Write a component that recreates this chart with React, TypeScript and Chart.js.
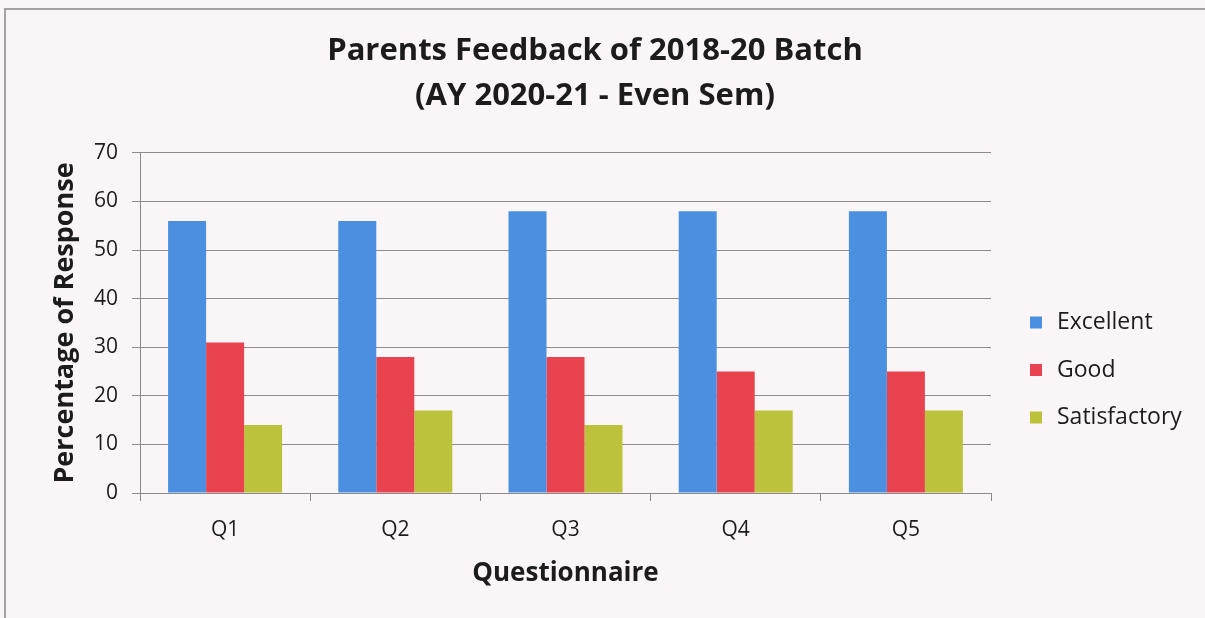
import React, { useEffect, useRef } from "react";
import { Chart, registerables } from "chart.js";

Chart.register(...registerables);

const categories = ["Q1", "Q2", "Q3", "Q4", "Q5"];
const seriesNames = ["Excellent", "Good", "Satisfactory"];
const excellent = [56, 56, 58, 58, 58];
const good = [31, 28, 28, 25, 25];
const satisfactory = [14, 17, 14, 17, 17];
const titleLines = ["Parents Feedback of 2018-20 Batch", "(AY 2020-21 - Even Sem)"];
const xTitle = "Questionnaire";
const yTitle = "Percentage of Response";
const yMin = 0;
const yMax = 70;
const yStep = 10;

const FONT = "'Open Sans', 'Noto Sans', sans-serif";
const COLORS = ["#4a8fe0", "#e8434f", "#bcc23b"];
const BG = "#faf6f8";
const TEXT = "#1c1c1c";

const bgPlugin = {
  id: "bgFrame",
  beforeDraw(chart: any) {
    const { ctx, width, height } = chart;
    ctx.save();
    ctx.fillStyle = BG;
    ctx.fillRect(0, 0, width, height);
    ctx.strokeStyle = "#a6a2a4";
    ctx.lineWidth = 2;
    ctx.beginPath();
    ctx.moveTo(5, height);
    ctx.lineTo(5, 9);
    ctx.lineTo(width, 9);
    ctx.stroke();
    ctx.restore();
  },
};

const legendPlugin = {
  id: "sideLegend",
  afterDraw(chart: any) {
    const { ctx, chartArea } = chart;
    const x = chartArea.right + 39;
    const centerY = 370;
    const gap = 47.5;
    ctx.save();
    ctx.font = `23px ${FONT}`;
    ctx.textBaseline = "middle";
    ctx.textAlign = "left";
    chart.data.datasets.forEach((ds: any, i: number) => {
      const cy = centerY + (i - 1) * gap;
      ctx.fillStyle = ds.backgroundColor;
      ctx.fillRect(x, cy - 6, 12, 12);
      ctx.fillStyle = TEXT;
      ctx.fillText(ds.label, x + 27, cy);
    });
    ctx.restore();
  },
};

export default function App() {
  const ref = useRef<HTMLCanvasElement | null>(null);

  useEffect(() => {
    if (!ref.current) return;
    const chart = new Chart(ref.current, {
      type: "bar",
      data: {
        labels: categories,
        datasets: [excellent, good, satisfactory].map((d, i) => ({
          label: seriesNames[i],
          data: d,
          yAxisID: "y",
          backgroundColor: COLORS[i],
          borderWidth: 0,
          categoryPercentage: 0.67,
          barPercentage: 1.0,
        })),
      },
      options: {
        responsive: false,
        animation: false,
        layout: { padding: { top: 0, left: 0, right: 15, bottom: 0 } },
        plugins: {
          legend: { display: false },
          tooltip: { enabled: false },
          title: {
            display: true,
            text: titleLines,
            color: TEXT,
            font: { family: FONT, size: 31, weight: "bold", lineHeight: 1.45 },
            padding: { top: 29, bottom: 34 },
          },
        },
        scales: {
          x: {
            offset: true,
            grid: {
              display: true,
              drawOnChartArea: false,
              drawTicks: true,
              tickLength: 8,
              color: "#8a8a8a",
              offset: true,
            },
            border: { display: true, color: "#8a8a8a" },
            ticks: { color: TEXT, font: { family: FONT, size: 21 }, padding: 16 },
            title: {
              display: true,
              text: xTitle,
              color: TEXT,
              font: { family: FONT, size: 26, weight: "bold" },
              padding: { top: 0, bottom: 29 },
            },
            afterFit: (s: any) => {
              s.height = 125;
            },
          },
          y: {
            min: yMin,
            max: yMax,
            ticks: {
              stepSize: yStep,
              color: TEXT,
              font: { family: FONT, size: 21 },
              padding: 14,
            },
            grid: { color: "#8c8c8c", tickLength: 8, drawTicks: true },
            border: { display: true, color: "#8a8a8a" },
            title: {
              display: true,
              text: yTitle,
              color: TEXT,
              font: { family: FONT, size: 27, weight: "bold" },
              padding: { top: 49, bottom: 0 },
            },
            afterFit: (s: any) => {
              s.width = 140;
            },
          },
          y2: {
            position: "right",
            display: true,
            min: yMin,
            max: yMax,
            grid: { display: false, drawTicks: false },
            border: { display: false },
            ticks: { display: false },
            afterFit: (s: any) => {
              s.width = 199;
            },
          },
        },
      },
      plugins: [bgPlugin, legendPlugin],
    });
    return () => chart.destroy();
  }, []);

  return (
    <div style={{ position: "fixed", left: 0, top: 0, width: 1205, height: 618 }}>
      <canvas ref={ref} width={1205} height={618} style={{ display: "block" }} />
    </div>
  );
}
